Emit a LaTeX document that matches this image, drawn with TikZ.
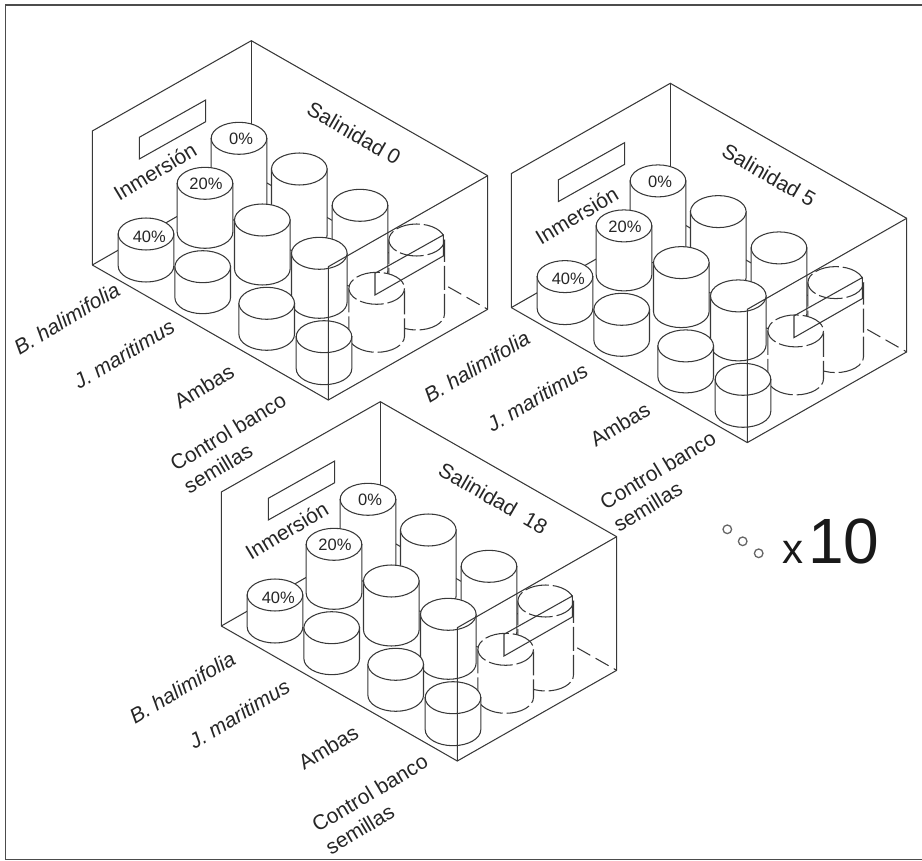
\documentclass[tikz,border=0pt]{standalone}
\usepackage{fontspec}
\setmainfont{Liberation Sans}
\tikzset{
  linea/.style={line width=1.05pt,black!78},
  cilsolido/.style={linea,fill=white},
  cilroto/.style={linea,fill=white,dash pattern=on 24pt off 4pt},
  etiq/.style={black!85,inner sep=0pt,font=\fontsize{21}{26}\selectfont},
  porc/.style={etiq,font=\fontsize{16.5}{18}\selectfont},
  etiqit/.style={etiq,font=\fontsize{21}{26}\selectfont\itshape}
}
\begin{document}
\begin{tikzpicture}[x=1pt,y=-1pt]
  \useasboundingbox (0,0) rectangle (922,861);
  \draw[line width=1.6pt,black!70] (922,5) -- (5.5,5) -- (5.5,859.5) -- (922,859.5);
  \foreach \tx/\ty/\t/\sal/\sx/\sy/\ix/\iy in {0/0/a/{Salinidad 0}/354/133.3/155/171.7,
      419/42.6/b/{Salinidad 5}/769/175/576.7/215.7,
      129/361/c/{Salinidad\ \ 18}/493.3/498.3/286.7/530.7}{
    \begin{scope}[shift={(\tx,\ty)}]
      \coordinate (bt\t) at (251.3,40.7);
      \coordinate (bb\t) at (251.3,174);
      \coordinate (lt\t) at (92.3,131);
      \coordinate (lb\t) at (92.3,265);
      \coordinate (rt\t) at (487.7,175.7);
      \coordinate (rb\t) at (487.7,309.3);
      \coordinate (ft\t) at (328.3,266.7);
      \coordinate (fb\t) at (328.3,400);
      \coordinate (rm\t) at (430,276.5);
      % floor and back edges go first, the pots cover them
      \draw[linea] (lb\t) -- (bb\t) -- (rm\t);
      \draw[linea,dash pattern=on 15pt off 6pt] (rm\t) -- (rb\t);
      \draw[linea] (bt\t) -- (bb\t);
      \foreach \cx/\cy/\h/\sty in {239/138.3/66/cilsolido,299.3/169/66/cilsolido,360/205.3/66/cilsolido,416.7/240/74/cilroto,
          205/183.3/49/cilsolido,262.3/220/49/cilsolido,319.3/253.3/49/cilsolido,376.7/288.3/48/cilroto,
          146/234/32/cilsolido,202.7/266.7/31/cilsolido,266.7/303.3/31/cilsolido,324/336.7/32/cilsolido}{
        \filldraw[\sty] (\cx-27.8,\cy) -- (\cx-27.8,\cy+\h) arc (180:0:27.8 and 16) -- (\cx+27.8,\cy) -- cycle;
        \filldraw[\sty] (\cx,\cy) ellipse (27.8 and 16);
      }
      \draw[linea] (lb\t) -- (lt\t) -- (bt\t) -- (rt\t) -- (rb\t) -- (fb\t) -- (lb\t);
      \draw[linea] (rt\t) -- (ft\t) -- (fb\t);
      \draw[linea] (139.3,137.3) -- (205.7,100) -- (205.7,121.7) -- (139.3,159) -- cycle;
      \draw[linea] (375,273.3) -- (443.3,235) -- (443.3,256) -- (375,295) -- cycle;
      \node[porc] (p40\t) at (149.3,236.7) {40\%};
      \node[porc] (p20\t) at (206,184) {20\%};
      \node[porc] (p0\t) at (241,139.3) {0\%};
    \end{scope}
    \node[etiq,rotate=-30] (sal\t) at (\sx,\sy) {\sal};
    \node[etiq,rotate=31] (inm\t) at (\ix,\iy) {Inmersión};
  }
  \foreach \n/\bx/\by/\jx/\jy/\ax/\ay/\cx/\cy in {a/66.7/318.3/124/354/204/386.7/234.8/443,
      b/476.7/366.7/537.3/397.3/620/424/664.5/481.3,
      c/182.3/687.3/239.3/714/328.3/747.3/376.5/804}{
    \node[etiqit,rotate=31] (bh\n) at (\bx,\by) {B. halimifolia};
    \node[etiqit,rotate=31] (jm\n) at (\jx,\jy) {J. maritimus};
    \node[etiq,rotate=31] (am\n) at (\ax,\ay) {Ambas};
    \node[etiq,rotate=31,align=left] (cb\n) at (\cx,\cy) {Control banco\\semillas};
  }
  % legend
  \foreach \x/\y in {727.3/529.3,742.7/541.3,758.7/553.3}{ \draw[line width=1.3pt,black!60] (\x,\y) circle (4.3); }
  \node[black!90,inner sep=0pt,anchor=base west] (veces) at (782,563.3) {\fontsize{42}{42}\selectfont x\hspace{5pt}\fontsize{64}{64}\selectfont 10};
\end{tikzpicture}
\end{document}
